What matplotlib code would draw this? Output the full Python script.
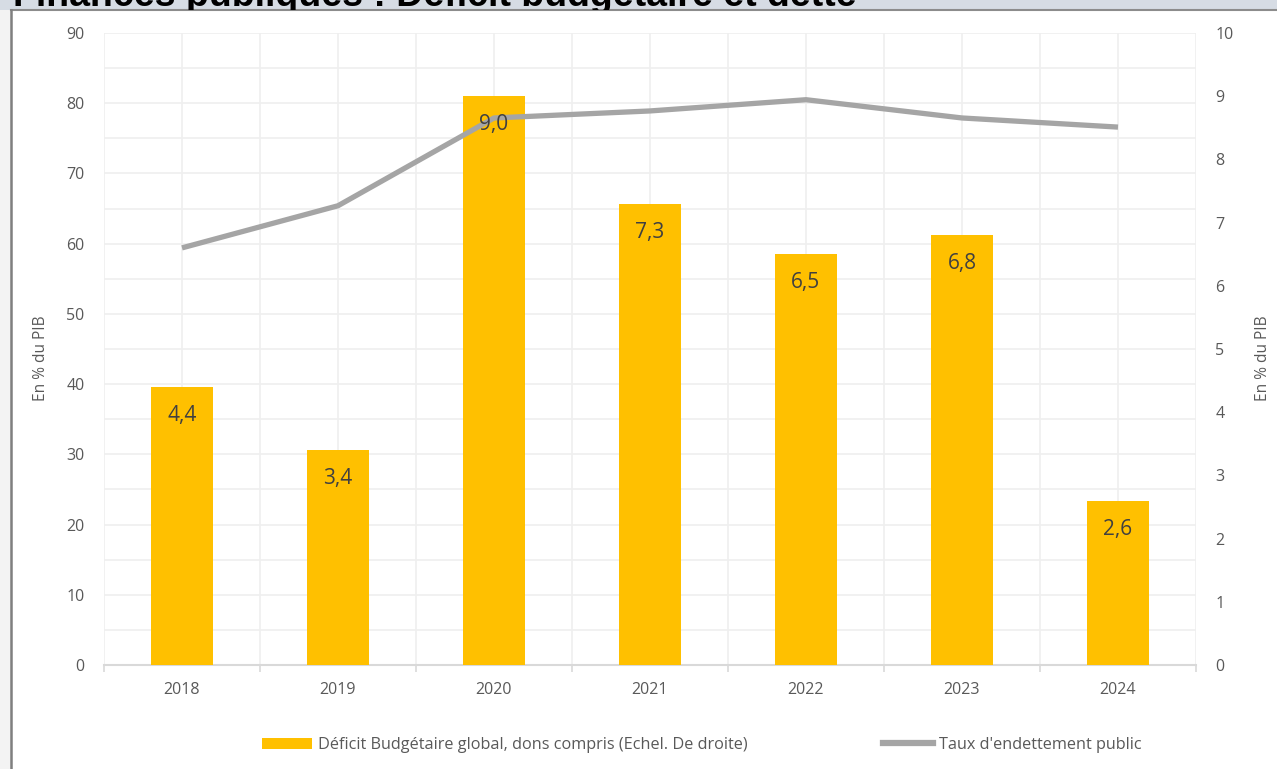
import matplotlib
matplotlib.use("Agg")
import matplotlib.pyplot as plt
from matplotlib.patches import Rectangle
from matplotlib.lines import Line2D
import numpy as np

years = ["2018", "2019", "2020", "2021", "2022", "2023", "2024"]
deficit = [4.4, 3.4, 9.0, 7.3, 6.5, 6.8, 2.6]          # right axis (bars)
debt = [59.4, 65.4, 77.9, 78.9, 80.5, 77.9, 76.6]      # left axis (line)
deficit_labels = ["4,4", "3,4", "9,0", "7,3", "6,5", "6,8", "2,6"]

title = "Finances publiques : Déficit budgétaire et dette"
bar_name = "Déficit Budgétaire global, dons compris (Echel. De droite)"
line_name = "Taux d'endettement public"
ylabel = "En % du PIB"

W, H = 1277, 769
fig = plt.figure(figsize=(W / 100, H / 100), dpi=100)
fig.patch.set_facecolor("white")

FONT = "Open Sans"
TXT = "#595959"
GRID = "#efefef"

# frame decorations
band = Rectangle((0, 1 - 9.5 / H), 1, 9.5 / H, transform=fig.transFigure,
                 facecolor="#d6dce4", edgecolor="none", zorder=0)
fig.patches.append(band)
fig.patches.append(Rectangle((0, 0), 11 / W, 1 - 9.5 / H, transform=fig.transFigure,
                             facecolor="#f3f3f3", edgecolor="none", zorder=0))
fig.lines.append(Line2D([11 / W, 1], [1 - 10 / H, 1 - 10 / H], transform=fig.transFigure,
                        color="#8c8c8c", lw=1.5))
fig.lines.append(Line2D([11 / W, 11 / W], [0, 1 - 10 / H], transform=fig.transFigure,
                        color="#7f7f7f", lw=1.8))
t = fig.text(13 / W, 1 - 6 / H, title, fontsize=27, fontweight="bold",
             family="Liberation Sans", color="black", va="baseline", ha="left")
t.set_clip_path(band)

left, right, bottom, top = 104 / W, 1196 / W, 1 - 665 / H, 1 - 33 / H
ax = fig.add_axes([left, bottom, right - left, top - bottom])
ax2 = ax.twinx()

x = np.arange(len(years))
ax.set_xlim(-0.5, len(years) - 0.5)
ax.set_ylim(0, 90)
ax2.set_ylim(0, 10)

# grid on left axis
ax.set_yticks(np.arange(0, 91, 10))
ax.set_yticks(np.arange(0, 91, 5), minor=True)
ax.set_xticks(x)
ax.set_xticks(np.arange(-0.5, len(years), 1.0), minor=True)
ax.set_xticklabels(years)
ax.grid(True, which="both", color=GRID, lw=1.2)
ax.set_axisbelow(True)
ax.tick_params(axis="y", which="both", length=0, pad=14, labelsize=11.5, labelcolor=TXT)
ax.tick_params(axis="x", which="major", length=0, pad=12, labelsize=11.5, labelcolor=TXT)
ax.tick_params(axis="x", which="minor", length=5, width=1.2, color="#d9d9d9")
for s in ["top", "left", "right"]:
    ax.spines[s].set_visible(False)
ax.spines["bottom"].set_color("#d9d9d9")
ax.spines["bottom"].set_linewidth(1.5)
for lab in ax.get_xticklabels() + ax.get_yticklabels():
    lab.set_family(FONT)

ax2.set_yticks(np.arange(0, 11, 1))
ax2.tick_params(axis="y", length=0, pad=14, labelsize=11.5, labelcolor=TXT)
for lab in ax2.get_yticklabels():
    lab.set_family(FONT)
for s in ax2.spines.values():
    s.set_visible(False)

bars = ax2.bar(x, deficit, width=0.4, color="#FFC000", zorder=2)
ax2.plot(x, debt, color="#A5A5A5", lw=3.8, solid_joinstyle="round",
         solid_capstyle="butt", transform=ax.transData, zorder=3)
for xi, v, lab in zip(x, deficit, deficit_labels):
    ax2.annotate(lab, (xi, v), xytext=(0, -20.5), textcoords="offset points",
                 ha="center", va="center", fontsize=15, color="#404040",
                 family=FONT, zorder=4)

ax.set_ylabel(ylabel, fontsize=11.2, color=TXT, family=FONT)
ax.yaxis.set_label_coords((49 - 104) / 1092, 0.485)
ax2.set_ylabel(ylabel, fontsize=11.2, color=TXT, family=FONT, rotation=90)
ax2.yaxis.set_label_coords((1255 - 104) / 1092, 0.485)

handles = [Rectangle((0, 0), 1, 1, facecolor="#FFC000", edgecolor="none"),
           Line2D([0], [0], color="#A5A5A5", lw=4.5)]
leg = fig.legend(handles, [bar_name, line_name], loc="center left",
                 bbox_to_anchor=(262 / W, 1 - 745 / H), ncol=2, frameon=False,
                 prop={"family": FONT, "size": 11.7}, labelcolor=TXT,
                 handlelength=3.1, handleheight=0.65, handletextpad=0.35,
                 columnspacing=8.3, borderaxespad=0, borderpad=0)

fig.savefig("out.png", dpi=100, facecolor=fig.get_facecolor())
